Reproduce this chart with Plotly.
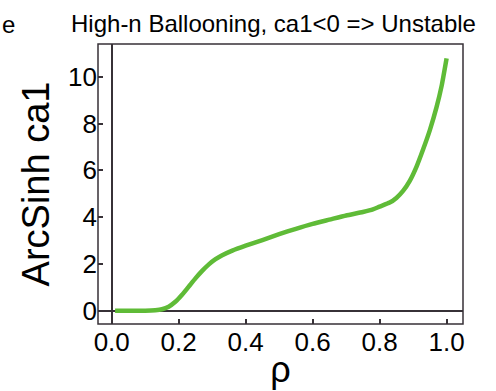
import plotly.graph_objects as go

rho = [0.01, 0.05, 0.10, 0.13, 0.15, 0.17, 0.19, 0.21, 0.23, 0.25, 0.27, 0.29, 0.31, 0.33, 0.36, 0.40, 0.45, 0.50, 0.55, 0.60, 0.65, 0.70, 0.75, 0.78, 0.80, 0.83, 0.85, 0.87, 0.89, 0.91, 0.93, 0.95, 0.97, 0.985, 1.0]
arcsinh_ca1 = [0.0, 0.0, 0.0, 0.02, 0.06, 0.17, 0.38, 0.68, 1.03, 1.38, 1.70, 1.98, 2.20, 2.37, 2.57, 2.78, 3.02, 3.27, 3.50, 3.71, 3.89, 4.07, 4.22, 4.33, 4.45, 4.62, 4.82, 5.12, 5.55, 6.15, 6.90, 7.72, 8.70, 9.60, 10.79]

x_ticks = [0.0, 0.2, 0.4, 0.6, 0.8, 1.0]
y_ticks = [0, 2, 4, 6, 8, 10]

title_text = "High-n Ballooning, ca1<0 => Unstable"
x_title = "ρ"
y_title = "ArcSinh ca1"

font_family = "Arial, Liberation Sans, sans-serif"
axis_color = "#373137"
x_range = [-0.041, 1.049]

fig = go.Figure()
fig.add_trace(go.Scatter(
    x=rho, y=arcsinh_ca1, mode="lines",
    line=dict(color="#5fbb37", width=4.5, shape="spline", smoothing=0.5),
    showlegend=False,
))

fig.update_layout(
    width=496, height=391,
    margin=dict(l=98, r=33, t=44, b=67, autoexpand=False),
    paper_bgcolor="white", plot_bgcolor="white",
    font=dict(family=font_family, color="black"),
    title=dict(text=title_text, x=273.5 / 496, xref="container", xanchor="center",
               y=1 - 24 / 391, yref="container", yanchor="middle",
               font=dict(size=24, family=font_family, color="black")),
    annotations=[dict(text="e", xref="paper", yref="paper", x=(0 - 98) / 365, y=1 + (44 - 24) / 280,
                      xanchor="left", yanchor="middle", showarrow=False,
                      font=dict(size=24, family=font_family, color="black"))],
    shapes=[dict(type="rect", xref="paper", yref="paper", x0=0, x1=1, y0=0, y1=1,
                 line=dict(color=axis_color, width=1.5), fillcolor="rgba(0,0,0,0)", layer="above")],
    xaxis=dict(
        range=x_range, tickvals=x_ticks, tickformat=".1f", automargin=False,
        anchor="free", position=0,
        ticks="inside", ticklen=5, tickwidth=1.5, tickcolor=axis_color,
        showline=False, showgrid=False,
        zeroline=True, zerolinecolor=axis_color, zerolinewidth=1.5,
        tickfont=dict(size=26, family=font_family, color="black"),
        title=dict(text=x_title, font=dict(size=36, family=font_family, color="black"), standoff=0),
    ),
    yaxis=dict(
        range=[-0.57, 11.4], tickvals=y_ticks, automargin=False,
        ticks="inside", ticklen=5, tickwidth=1.5, tickcolor=axis_color,
        showline=False, showgrid=False,
        zeroline=True, zerolinecolor=axis_color, zerolinewidth=1.5,
        tickfont=dict(size=26, family=font_family, color="black"),
        title=dict(text=y_title, font=dict(size=38, family=font_family, color="black"), standoff=6),
    ),
)

fig.write_html("out.html")
